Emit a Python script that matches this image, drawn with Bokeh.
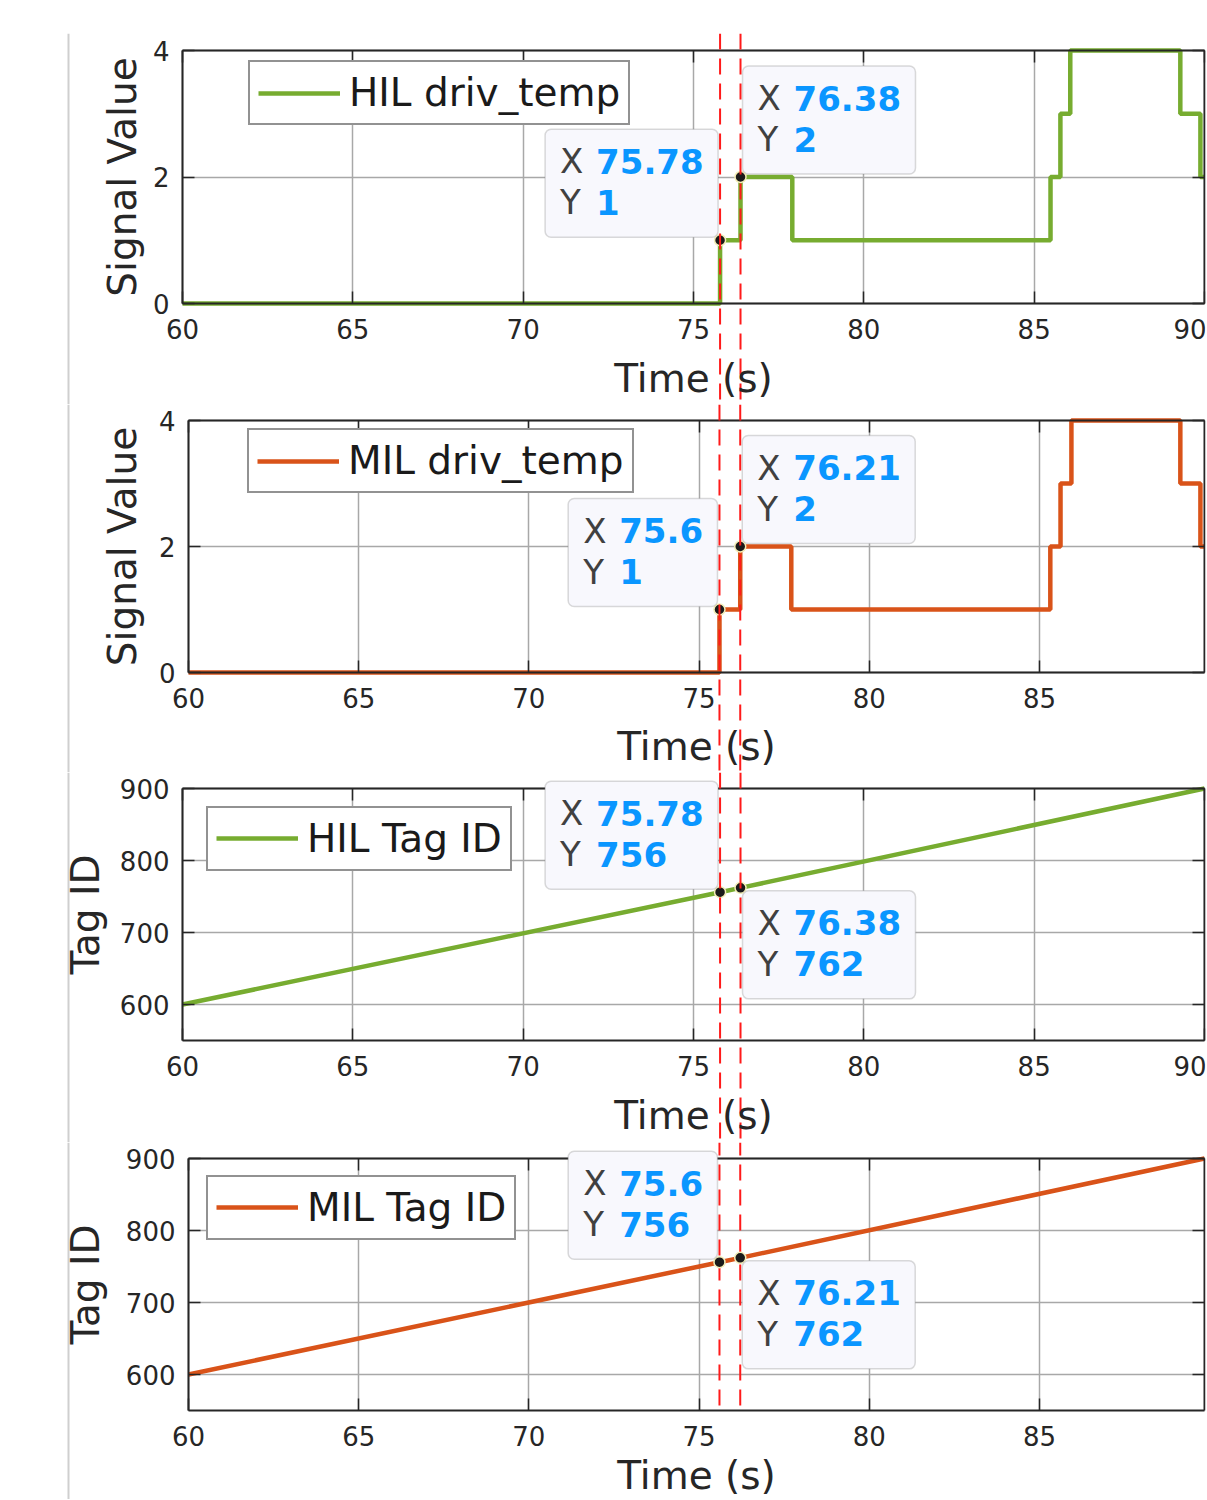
import math
from bokeh.plotting import figure
from bokeh.layouts import column
from bokeh.models import (Range1d, LinearAxis, FixedTicker, Grid, Span, Label, Legend,
                          LegendItem, BoxAnnotation)
from bokeh.embed import file_html
from bokeh.resources import INLINE

# ---------------- data ----------------
TIME_TICKS = [60, 65, 70, 75, 80, 85, 90]
TEMP_TICKS = [0, 2, 4]
TAG_TICKS = [600, 700, 800, 900]
TEMP_LIM = (0, 4)
TAG_LIM = (550, 900)
HIL_XLIM = (60, 90)
MIL_XLIM = (60, 89.85)

HIL_TEMP_T = [60, 75.78, 76.38, 77.90, 85.48, 85.77, 86.06, 89.29, 89.88, 90]
HIL_TEMP = [0, 1, 2, 1, 2, 3, 4, 3, 2, 2]
MIL_TEMP_T = [60, 75.6, 76.21, 77.71, 85.32, 85.62, 85.94, 89.14, 89.73, 89.85]
MIL_TEMP = [0, 1, 2, 1, 2, 3, 4, 3, 2, 2]

HIL_TAG_T = [60, 75.78, 76.38, 90]
HIL_TAG = [600, 756, 762, 900]
MIL_TAG_T = [60, 75.6, 76.21, 89.85]
MIL_TAG = [600, 756, 762, 900]

HIL_TEMP_TIPS = [(75.78, 1), (76.38, 2)]
MIL_TEMP_TIPS = [(75.6, 1), (76.21, 2)]
HIL_TAG_TIPS = [(75.78, 756), (76.38, 762)]
MIL_TAG_TIPS = [(75.6, 756), (76.21, 762)]
HIL_CURSORS = [75.78, 76.38]
MIL_CURSORS = [75.6, 76.21]

# ---------------- styles / layout ----------------
GREEN = "#77AC30"
ORANGE = "#D95319"
AX = "#262626"
GRID_C = "#a8a8a8"
RED = "#ff1a1a"
RULE_C = "#cfcfcf"
TIP_BG = "#f8f8fd"
TIP_EDGE = "#858585"
TIP_KEY = "#404040"
TIP_VAL = "#0a96ff"
FONT = "DejaVu Sans"

PAGE_W = 1206
FRAME_R = 1205      # right edge of every frame (page px)
BOX_R = 1204        # right edge of every axes box (page px)
RULE_X = 68         # grey window rule (page px)

PANELS = [
    dict(label="HIL driv_temp", color=GREEN, t=HIL_TEMP_T, v=HIL_TEMP, kind="step",
         xlim=HIL_XLIM, ylim=TEMP_LIM, yticks=TEMP_TICKS, ylabel="Signal Value",
         tips=HIL_TEMP_TIPS, corners=("br", "bl"), cursors=HIL_CURSORS,
         canvas=(0, 404), frame=(33, 404), box=(50, 303), left=182,
         legend_at=(248, 94.5), ylabel_x=122, xlabel_dy=75, cursor_to_bottom=True),
    dict(label="MIL driv_temp", color=ORANGE, t=MIL_TEMP_T, v=MIL_TEMP, kind="step",
         xlim=MIL_XLIM, ylim=TEMP_LIM, yticks=TEMP_TICKS, ylabel="Signal Value",
         tips=MIL_TEMP_TIPS, corners=("br", "bl"), cursors=MIL_CURSORS,
         canvas=(404, 772), frame=(404, 772), box=(420, 672), left=188,
         legend_at=(247, 462.5), ylabel_x=122, xlabel_dy=74, cursor_to_bottom=True),
    dict(label="HIL Tag ID", color=GREEN, t=HIL_TAG_T, v=HIL_TAG, kind="line",
         xlim=HIL_XLIM, ylim=TAG_LIM, yticks=TAG_TICKS, ylabel="Tag ID",
         tips=HIL_TAG_TIPS, corners=("br", "tl"), cursors=HIL_CURSORS,
         canvas=(772, 1142), frame=(772, 1142), box=(788, 1040), left=182,
         legend_at=(206, 840), ylabel_x=85, xlabel_dy=75, cursor_to_bottom=True),
    dict(label="MIL Tag ID", color=ORANGE, t=MIL_TAG_T, v=MIL_TAG, kind="line",
         xlim=MIL_XLIM, ylim=TAG_LIM, yticks=TAG_TICKS, ylabel="Tag ID",
         tips=MIL_TAG_TIPS, corners=("br", "tl"), cursors=MIL_CURSORS,
         canvas=(1142, 1499), frame=(1142, 1499), box=(1158, 1410), left=188,
         legend_at=(206, 1209), ylabel_x=85, xlabel_dy=65, cursor_to_bottom=False),
]

HAS_CROSS = "cross_bounds" in Grid.properties()
BOX_RADIUS = "border_radius" in BoxAnnotation.properties()

# datatip metrics (px)
FS = 34
TIP_H = 108
TIP_GX, TIP_GY = 2, 3


def bold_w(s):
    return sum(0.380 if c == "." else 0.696 for c in s) * FS


def add_tip(p, x, y, corner, sx, sy):
    xs, ys = f"{x:g}", f"{y:g}"
    W = 28 + 1.1 * FS + max(bold_w(xs), bold_w(ys))
    H = TIP_H
    if corner == "br":
        ox, oy = -TIP_GX - W, TIP_GY + H
    elif corner == "bl":
        ox, oy = TIP_GX, TIP_GY + H
    else:
        ox, oy = TIP_GX, -TIP_GY
    kw = dict(left=x + ox / sx, right=x + (ox + W) / sx,
              top=y + oy / sy, bottom=y + (oy - H) / sy,
              fill_color=TIP_BG, fill_alpha=1.0, line_color=TIP_EDGE, line_width=1.5)
    if BOX_RADIUS:
        kw["border_radius"] = 6
    p.add_layout(BoxAnnotation(**kw))
    for dy, (k, v) in ((32, ("X", xs)), (73, ("Y", ys))):
        p.add_layout(Label(x=x, y=y, x_offset=ox + 15, y_offset=oy - dy, text=k,
                           text_align="left", text_baseline="middle", text_font=FONT,
                           text_font_size=f"{FS}px", text_color=TIP_KEY))
        p.add_layout(Label(x=x, y=y, x_offset=ox + 51, y_offset=oy - dy, text=v,
                           text_align="left", text_baseline="middle", text_font=FONT,
                           text_font_size=f"{FS}px", text_font_style="bold",
                           text_color=TIP_VAL))


def make_axis(p, side, loc, ticks, bounds, show, standoff):
    a = LinearAxis(fixed_location=loc, bounds=bounds,
                   ticker=FixedTicker(ticks=ticks, minor_ticks=[]),
                   axis_line_color=AX, axis_line_width=2,
                   major_tick_line_color=AX, major_tick_line_width=1.5,
                   major_tick_in=12, major_tick_out=0, minor_tick_line_color=None,
                   major_label_text_font=FONT, major_label_text_font_size="26px",
                   major_label_text_color=AX if show else None,
                   major_label_standoff=standoff)
    p.add_layout(a, side)


def build(sp):
    ct, cb = sp["canvas"]
    ft, fb = sp["frame"]
    bt, bb = sp["box"]
    bl = sp["left"]
    y0, y1 = sp["ylim"]
    x0, x1 = sp["xlim"]
    sy = (bb - bt) / (y1 - y0)
    sx = (BOX_R - bl) / (x1 - x0)
    xr = Range1d(x0 - bl / sx, x1 + (FRAME_R - BOX_R) / sx)
    yr = Range1d(y0 - (fb - bb) / sy, y1 + (bt - ft) / sy)
    p = figure(width=PAGE_W, height=cb - ct, x_range=xr, y_range=yr,
               x_axis_type=None, y_axis_type=None, title=None,
               output_backend="svg", toolbar_location=None,
               min_border_left=0, min_border_right=PAGE_W - FRAME_R,
               min_border_top=ft - ct, min_border_bottom=cb - fb,
               outline_line_color=None, background_fill_color="white",
               border_fill_color="white")

    xt = [t for t in TIME_TICKS if x0 <= t <= x1]
    yt = sp["yticks"]

    gx = Grid(dimension=0, ticker=FixedTicker(ticks=xt, minor_ticks=[]),
              grid_line_color=GRID_C, grid_line_width=1.5)
    gy = Grid(dimension=1, ticker=FixedTicker(ticks=yt, minor_ticks=[]),
              grid_line_color=GRID_C, grid_line_width=1.5)
    if HAS_CROSS:
        gx.cross_bounds = (y0, y1)
        gy.cross_bounds = (x0, x1)
        p.add_layout(gx)
        p.add_layout(gy)
    else:
        p.segment(x0=xt, y0=[y0] * len(xt), x1=xt, y1=[y1] * len(xt),
                  line_color=GRID_C, line_width=1.5, level="underlay")
        p.segment(x0=[x0] * len(yt), y0=yt, x1=[x1] * len(yt), y1=yt,
                  line_color=GRID_C, line_width=1.5, level="underlay")

    # grey window rule on the left
    p.add_layout(Span(location=x0 + (RULE_X - bl) / sx, dimension="height",
                      line_color=RULE_C, line_width=2))

    make_axis(p, "below", y0, xt, (x0, x1), True, 15)
    make_axis(p, "above", y1, xt, (x0, x1), False, 0)
    make_axis(p, "left", x0, yt, (y0, y1), True, 13)
    make_axis(p, "right", x1, yt, (y0, y1), False, 0)

    if sp["kind"] == "step":
        r = p.step(sp["t"], sp["v"], mode="after", line_color=sp["color"], line_width=4.5)
    else:
        r = p.line(sp["t"], sp["v"], line_color=sp["color"], line_width=4.5)

    for c in sp["cursors"]:
        if sp["cursor_to_bottom"]:
            p.add_layout(Span(location=c, dimension="height", line_color=RED,
                              line_width=2, line_dash="16 9"))
        else:
            p.segment(x0=[c], y0=[y0 + 5 / sy], x1=[c], y1=[yr.end], line_color=RED,
                      line_width=2, line_dash="16 9")

    tx = [t[0] for t in sp["tips"]]
    ty = [t[1] for t in sp["tips"]]
    p.scatter(tx, ty, size=11, fill_color="#1a1a1a", line_color="#f3eeb8", line_width=1.5)
    for (x, y), corner in zip(sp["tips"], sp["corners"]):
        add_tip(p, x, y, corner, sx, sy)

    # legend
    lpad = 8
    lfs = 39
    lh = 2 * lpad + 1.164 * lfs
    lx, lcy = sp["legend_at"]
    leg = Legend(items=[LegendItem(label=sp["label"], renderers=[r])],
                 location=(lx, fb - (lcy + lh / 2)),
                 border_line_color=AX, border_line_width=2,
                 background_fill_color="white", background_fill_alpha=1.0,
                 label_text_font=FONT, label_text_font_size=f"{lfs}px",
                 label_text_color="#1a1a1a", glyph_width=82, glyph_height=30,
                 label_standoff=9, padding=lpad, margin=0, spacing=0)
    p.add_layout(leg)

    # axis titles
    p.add_layout(Label(x=x0, y=(y0 + y1) / 2, x_offset=sp["ylabel_x"] - bl,
                       text=sp["ylabel"], angle=math.pi / 2, text_align="center",
                       text_baseline="middle", text_font=FONT, text_font_size="39px",
                       text_color=AX))
    p.add_layout(Label(x=(x0 + x1) / 2, y=y0, y_offset=-sp["xlabel_dy"],
                       text="Time (s)", text_align="center", text_baseline="middle",
                       text_font=FONT, text_font_size="39px", text_color=AX))
    return p


figs = [build(sp) for sp in PANELS]
layout = column(*figs, spacing=0)

open("out.html", "w").write(file_html(layout, INLINE))
